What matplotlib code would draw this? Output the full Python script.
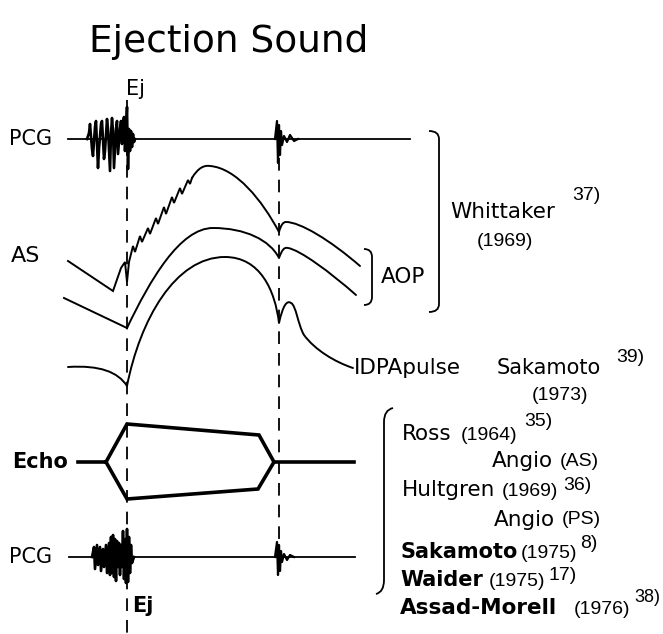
import matplotlib
matplotlib.use("Agg")
import matplotlib.pyplot as plt
from matplotlib.path import Path
from matplotlib.patches import PathPatch

# ---- data (pixel units of the original sketch, y grows downward) ----
title = "Ejection Sound"

# dashed timing lines (ejection click, second sound)
ej_x = 127
s2_x = 279

# PCG tracings: vibration offsets around the baseline
pcg1_base = 139
pcg1_line = [68, 410]
pcg1_vib_x = [87, 89, 90, 92, 93, 95, 96, 98, 99, 101, 102, 104, 105, 107, 108, 110,
              111, 112, 113, 114, 116, 117, 118, 120, 121, 122, 123, 124, 125, 126,
              127, 128, 129, 130, 131, 132, 133, 134, 135]
pcg1_vib_dy = [0, -6, -15, 10, 17, -12, -18, 29, 10, -15, -18, 20, 12, -20, -10, 32,
               -5, -21, -8, 29, -10, -18, 15, -10, -18, 5, -16, -22, 12, -10,
               -32, 30, -10, 12, -8, 8, -5, 3, 0]
pcg1_s2_x = [275, 277, 278, 279, 280, 281, 282, 284, 287, 290, 294, 298]
pcg1_s2_dy = [0, -18, 24, -14, 16, -8, 6, -3, 3, -4, 2, 0]

pcg2_base = 557
pcg2_line = [69, 355]
pcg2_vib_x = [92, 94, 95, 97, 98, 100, 101, 103, 104, 106, 107, 109, 110, 111, 112, 113,
              114, 115, 116, 117, 118, 119, 120, 121, 122, 123, 124, 125, 126, 127, 128,
              129, 130, 131, 132, 134]
pcg2_vib_dy = [0, -10, 12, -12, 8, -10, 14, -8, 10, -12, 16, -14, 18, -20, 16, -22,
               20, -18, 24, -16, 10, -14, 18, -12, 10, -26, 22, -18, 26, -28, 25,
               -20, 16, -12, 6, 0]
pcg2_s2_x = [275, 277, 278, 279, 280, 281, 282, 284, 287, 290, 294]
pcg2_s2_dy = [0, -15, 18, -12, 14, -6, 5, -3, 3, -2, 0]

# AS carotid pulse (top curve): straight fall, jagged upstroke, smooth top
as_line_x = [68, 113, 121, 125, 127, 129, 133, 135, 140, 142, 148, 150, 156, 158,
             164, 166, 172, 174, 180, 182, 188, 190, 192]
as_line_y = [261, 291, 268, 262, 282, 262, 246, 252, 236, 242, 228, 234, 218, 224,
             207, 214, 197, 203, 188, 194, 180, 184, 178]
as_curve = [(192, 178), (198, 168), (204, 165), (210, 166),
            (236, 168), (262, 200), (279, 232),
            (281, 225), (283, 222), (286, 222),
            (300, 222), (330, 240), (360, 266)]

# AOP upper curve
aop_line_x = [64, 127]
aop_line_y = [298, 328]
aop_curve = [(127, 328), (150, 280), (180, 228), (213, 228),
             (245, 228), (270, 240), (279, 258),
             (282, 250), (284, 247), (288, 248),
             (300, 250), (330, 272), (356, 295)]

# IDPA pulse (lower curve)
idpa_curve = [(68, 367), (100, 365), (118, 372), (127, 386),
              (140, 320), (175, 257), (225, 257),
              (260, 257), (275, 290), (279, 323),
              (283, 305), (287, 300), (291, 303),
              (296, 305), (298, 325), (304, 335),
              (315, 350), (335, 362), (353, 368)]

# Echo (valve opening) hexagon
echo_x = [78, 106, 127, 259, 274, 258, 127, 106]
echo_y = [462, 462, 424, 435, 462, 489, 499, 462]
echo_tail = [274, 354]

# text labels: (text, x, y, size, weight)
labels = [
    ("Ej", 126, 89, 15, "normal"),
    ("PCG", 9, 139, 15, "normal"),
    ("AS", 11, 256, 16, "normal"),
    ("AOP", 381, 277, 15.5, "normal"),
    ("Whittaker", 450, 212, 15.5, "normal"),
    ("IDPApulse", 354, 368, 15.5, "normal"),
    ("Sakamoto", 497, 368, 15, "normal"),
    ("Echo", 12, 462, 15, "bold"),
    ("PCG", 9, 557, 15, "normal"),
    ("Ej", 132, 606, 15, "bold"),
    ("Ross", 402, 434, 15.5, "normal"),
    ("Angio", 492, 461, 15.5, "normal"),
    ("Hultgren", 402, 490, 15.5, "normal"),
    ("Angio", 494, 520, 15.5, "normal"),
    ("Sakamoto", 400, 552, 15, "bold"),
    ("Waider", 400, 580, 15, "bold"),
    ("Assad-Morell", 400, 608, 15.5, "bold"),
]
# narrow years, references and (AS)/(PS): (text, x, y, size)
small = [
    ("37)", 572, 195, 14), ("(1969)", 477, 242, 14),
    ("39)", 616, 357, 14), ("(1973)", 532, 395, 14),
    ("(1964)", 461, 435, 14), ("35)", 524, 421, 14),
    ("(AS)", 560, 461, 14), ("(1969)", 502, 491, 14), ("36)", 563, 485, 14),
    ("(PS)", 562, 520, 14),
    ("(1975)", 521, 553, 14), ("8)", 580, 543, 14),
    ("(1975)", 489, 581, 14), ("17)", 548, 575, 14),
    ("(1976)", 574, 609, 14), ("38)", 634, 598, 13),
]

# ---- drawing ----
fig = plt.figure(figsize=(6.63, 6.34), dpi=100)
ax = fig.add_axes([0, 0, 1, 1])
ax.set_xlim(0, 663)
ax.set_ylim(634, 0)
ax.axis("off")

ink = "black"
narrow = ["Liberation Sans", "DejaVu Sans"]


def bezier(ax, pts, lw=1.4):
    codes = [Path.MOVETO] + [Path.CURVE4] * (len(pts) - 1)
    ax.add_patch(PathPatch(Path(pts, codes), fill=False, ec=ink, lw=lw,
                           capstyle="round", joinstyle="round"))


def pcg(ax, base, line, vx, vdy, sx, sdy):
    ax.plot(line, [base, base], color=ink, lw=1.3)
    ax.plot(vx, [base + d for d in vdy], color=ink, lw=1.9)
    ax.plot(sx, [base + d for d in sdy], color=ink, lw=1.6)


def bracket(ax, x0, x1, y0, y1, lw=1.3):
    # right-facing bracket  )
    r = 8
    pts = [(x0, y0), (x1, y0), (x1, y0 + r), (x1, y0 + r + 2),
           (x1, y1 - r - 2), (x1, y1 - r), (x1, y1), (x0, y1)]
    codes = [Path.MOVETO, Path.CURVE3, Path.CURVE3, Path.LINETO,
             Path.LINETO, Path.LINETO, Path.CURVE3, Path.CURVE3]
    ax.add_patch(PathPatch(Path(pts, codes), fill=False, ec=ink, lw=lw))


ax.text(89, 42, title, fontsize=27, va="center", ha="left", family="DejaVu Sans")

# dashed timing lines
ax.plot([ej_x, ej_x], [100, 634], color=ink, lw=1.3, dashes=(7, 5))
ax.plot([s2_x, s2_x], [158, 560], color=ink, lw=1.3, dashes=(7, 5))

pcg(ax, pcg1_base, pcg1_line, pcg1_vib_x, pcg1_vib_dy, pcg1_s2_x, pcg1_s2_dy)
pcg(ax, pcg2_base, pcg2_line, pcg2_vib_x, pcg2_vib_dy, pcg2_s2_x, pcg2_s2_dy)

ax.plot(as_line_x, as_line_y, color=ink, lw=1.4, solid_joinstyle="miter")
bezier(ax, as_curve)
ax.plot(aop_line_x, aop_line_y, color=ink, lw=1.4)
bezier(ax, aop_curve)
bezier(ax, idpa_curve)

ax.plot(echo_x, echo_y, color=ink, lw=2.6, solid_joinstyle="miter")
ax.plot(echo_tail, [echo_y[0], echo_y[0]], color=ink, lw=2.6)

bracket(ax, 364, 372, 249, 305)
bracket(ax, 429, 439, 131, 312)

# lower reference bracket (integral-like)
lb = [(393, 408), (384, 410), (384, 422), (384, 424),
      (384, 578), (384, 580), (384, 592), (376, 594)]
lb_codes = [Path.MOVETO, Path.CURVE3, Path.CURVE3, Path.LINETO,
            Path.LINETO, Path.LINETO, Path.CURVE3, Path.CURVE3]
ax.add_patch(PathPatch(Path(lb, lb_codes), fill=False, ec=ink, lw=1.3))

for t, x, y, s, w in labels:
    ax.text(x, y, t, fontsize=s, fontweight=w, va="center", ha="left",
            family="DejaVu Sans")
for t, x, y, s in small:
    ax.text(x, y, t, fontsize=s, va="center", ha="left", family=narrow)

fig.savefig("out.png", dpi=100)
